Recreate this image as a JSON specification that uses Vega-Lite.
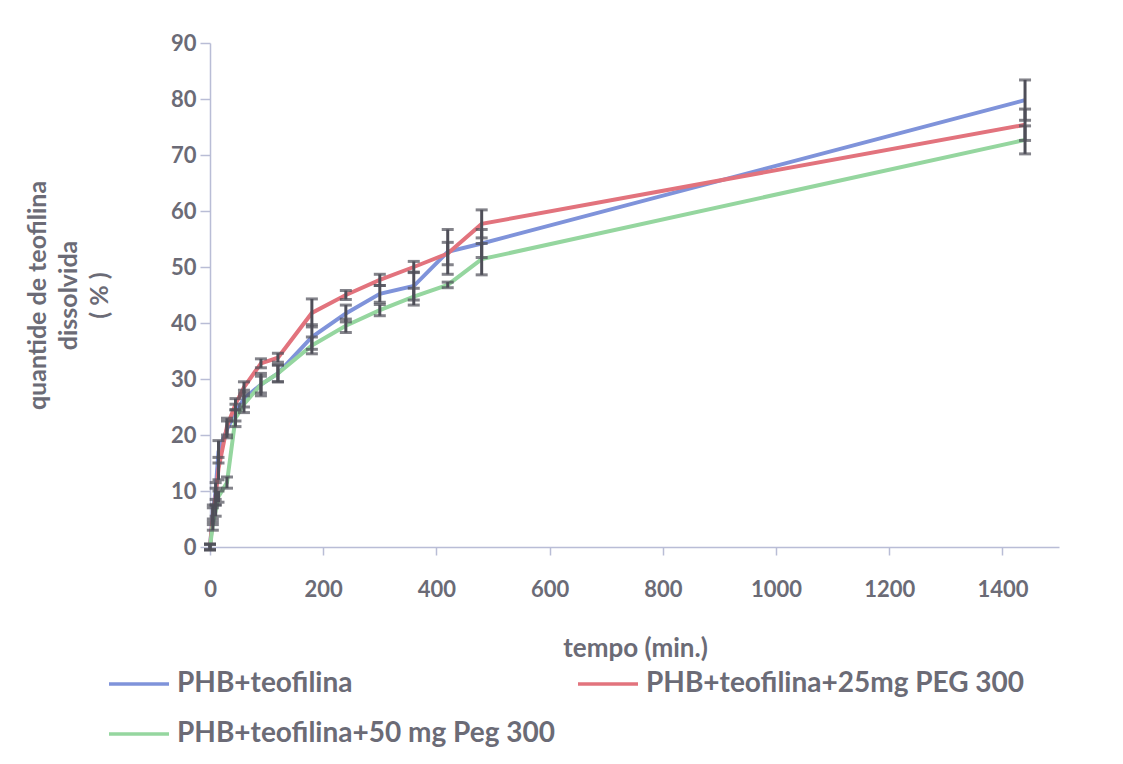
{
  "$schema": "https://vega.github.io/schema/vega-lite/v6.json",
  "autosize": "none",
  "width": 849,
  "height": 504,
  "padding": {"left": 210, "top": 43, "right": 64, "bottom": 217},
  "background": "white",
  "config": {
    "font": "Lato",
    "view": {"stroke": null},
    "axis": {"grid": false}
  },
  "data": {
    "values": [
      {"t": 0, "v": 0, "sd": 0.5, "s": "PHB+teofilina"},
      {"t": 5, "v": 6, "sd": 1.5, "s": "PHB+teofilina"},
      {"t": 10, "v": 10, "sd": 1.5, "s": "PHB+teofilina"},
      {"t": 15, "v": 17, "sd": 2, "s": "PHB+teofilina"},
      {"t": 30, "v": 21, "sd": 1.5, "s": "PHB+teofilina"},
      {"t": 45, "v": 24, "sd": 1.5, "s": "PHB+teofilina"},
      {"t": 60, "v": 26.5, "sd": 1.5, "s": "PHB+teofilina"},
      {"t": 90, "v": 29, "sd": 2, "s": "PHB+teofilina"},
      {"t": 120, "v": 31, "sd": 1.5, "s": "PHB+teofilina"},
      {"t": 180, "v": 37.5, "sd": 2.2, "s": "PHB+teofilina"},
      {"t": 240, "v": 41.7, "sd": 1.5, "s": "PHB+teofilina"},
      {"t": 300, "v": 45.2, "sd": 1.5, "s": "PHB+teofilina"},
      {"t": 360, "v": 46.6, "sd": 2.5, "s": "PHB+teofilina"},
      {"t": 420, "v": 52.7, "sd": 4, "s": "PHB+teofilina"},
      {"t": 480, "v": 54.2, "sd": 2.5, "s": "PHB+teofilina"},
      {"t": 1440, "v": 79.8, "sd": 3.6, "s": "PHB+teofilina"},
      {"t": 0, "v": 0, "sd": 0.5, "s": "PHB+teofilina+25mg PEG 300"},
      {"t": 5, "v": 5.5, "sd": 1.5, "s": "PHB+teofilina+25mg PEG 300"},
      {"t": 10, "v": 9, "sd": 1.5, "s": "PHB+teofilina+25mg PEG 300"},
      {"t": 15, "v": 14, "sd": 2, "s": "PHB+teofilina+25mg PEG 300"},
      {"t": 30, "v": 21.5, "sd": 1.5, "s": "PHB+teofilina+25mg PEG 300"},
      {"t": 45, "v": 25.5, "sd": 1, "s": "PHB+teofilina+25mg PEG 300"},
      {"t": 60, "v": 28.5, "sd": 1, "s": "PHB+teofilina+25mg PEG 300"},
      {"t": 90, "v": 32.8, "sd": 0.8, "s": "PHB+teofilina+25mg PEG 300"},
      {"t": 120, "v": 33.8, "sd": 0.8, "s": "PHB+teofilina+25mg PEG 300"},
      {"t": 180, "v": 41.8, "sd": 2.5, "s": "PHB+teofilina+25mg PEG 300"},
      {"t": 240, "v": 45, "sd": 0.8, "s": "PHB+teofilina+25mg PEG 300"},
      {"t": 300, "v": 47.7, "sd": 1, "s": "PHB+teofilina+25mg PEG 300"},
      {"t": 360, "v": 50, "sd": 1, "s": "PHB+teofilina+25mg PEG 300"},
      {"t": 420, "v": 52.4, "sd": 2, "s": "PHB+teofilina+25mg PEG 300"},
      {"t": 480, "v": 57.7, "sd": 2.5, "s": "PHB+teofilina+25mg PEG 300"},
      {"t": 1440, "v": 75.4, "sd": 2.8, "s": "PHB+teofilina+25mg PEG 300"},
      {"t": 0, "v": 0, "sd": 0.5, "s": "PHB+teofilina+50 mg Peg 300"},
      {"t": 5, "v": 4, "sd": 1, "s": "PHB+teofilina+50 mg Peg 300"},
      {"t": 10, "v": 6.5, "sd": 1, "s": "PHB+teofilina+50 mg Peg 300"},
      {"t": 15, "v": 9, "sd": 1, "s": "PHB+teofilina+50 mg Peg 300"},
      {"t": 30, "v": 11.5, "sd": 1, "s": "PHB+teofilina+50 mg Peg 300"},
      {"t": 45, "v": 23, "sd": 1.5, "s": "PHB+teofilina+50 mg Peg 300"},
      {"t": 60, "v": 25.5, "sd": 1.5, "s": "PHB+teofilina+50 mg Peg 300"},
      {"t": 90, "v": 29, "sd": 1.5, "s": "PHB+teofilina+50 mg Peg 300"},
      {"t": 120, "v": 31, "sd": 1.5, "s": "PHB+teofilina+50 mg Peg 300"},
      {"t": 180, "v": 36, "sd": 1.5, "s": "PHB+teofilina+50 mg Peg 300"},
      {"t": 240, "v": 39.5, "sd": 1.2, "s": "PHB+teofilina+50 mg Peg 300"},
      {"t": 300, "v": 42.3, "sd": 1, "s": "PHB+teofilina+50 mg Peg 300"},
      {"t": 360, "v": 44.7, "sd": 1.5, "s": "PHB+teofilina+50 mg Peg 300"},
      {"t": 420, "v": 46.8, "sd": 0.5, "s": "PHB+teofilina+50 mg Peg 300"},
      {"t": 480, "v": 51.4, "sd": 2.8, "s": "PHB+teofilina+50 mg Peg 300"},
      {"t": 1440, "v": 72.7, "sd": 2.5, "s": "PHB+teofilina+50 mg Peg 300"}
    ]
  },
  "encoding": {
    "x": {
      "field": "t", "type": "quantitative",
      "scale": {"domain": [0, 1500], "nice": false, "zero": false},
      "axis": {
        "values": [0, 200, 400, 600, 800, 1000, 1200, 1400],
        "format": "d",
        "labelFlush": false,
        "title": "tempo  (min.)",
        "titleFont": "Lato", "titleFontSize": 26, "titleFontWeight": "bold", "titleColor": "#6b6b76",
        "titleX": 425, "titleY": 101, "titleBaseline": "middle",
        "labelFont": "Lato", "labelFontSize": 22, "labelFontWeight": "bold", "labelColor": "#6b6b76",
        "labelPadding": 24,
        "domainColor": "#b9bdd6", "domainWidth": 1.5,
        "tickColor": "#b9bdd6", "tickSize": 8, "tickWidth": 1.5
      }
    },
    "y": {
      "field": "v", "type": "quantitative",
      "scale": {"domain": [0, 90], "nice": false},
      "axis": {
        "values": [0, 10, 20, 30, 40, 50, 60, 70, 80, 90],
        "title": ["quantide de teofilina", "dissolvida", "( % )"],
        "titleFont": "Lato", "titleFontSize": 25, "titleFontWeight": "bold", "titleColor": "#6b6b76",
        "titleX": -185, "titleY": 252, "titleAngle": -90, "titleAlign": "center", "titleBaseline": "top",
        "titleLineHeight": 31,
        "labelFont": "Lato", "labelFontSize": 22, "labelFontWeight": "bold", "labelColor": "#6b6b76",
        "labelPadding": 4,
        "domainColor": "#b9bdd6", "domainWidth": 1.5,
        "tickColor": "#b9bdd6", "tickSize": 10, "tickWidth": 1.5
      }
    }
  },
  "layer": [
    {
      "mark": {"type": "line", "strokeWidth": 4},
      "encoding": {
        "color": {
          "field": "s", "type": "nominal",
          "scale": {
            "domain": ["PHB+teofilina", "PHB+teofilina+25mg PEG 300", "PHB+teofilina+50 mg Peg 300"],
            "range": ["#7f93da", "#e2737d", "#95d69f"]
          },
          "legend": {
            "title": null,
            "orient": "none",
            "direction": "horizontal",
            "legendX": -103,
            "legendY": 609,
            "columns": 2,
            "columnPadding": 16,
            "rowPadding": 4,
            "symbolType": "stroke",
            "symbolSize": 3600,
            "symbolStrokeWidth": 3.5,
            "labelFont": "Lato", "labelFontSize": 28, "labelFontWeight": "bold", "labelColor": "#6b6b76",
            "labelLimit": 600, "labelOffset": 6
          }
        }
      }
    },
    {
      "mark": {"type": "errorbar", "ticks": {"size": 12, "color": "#4e4e58", "strokeWidth": 3}, "color": "#4e4e58", "thickness": 3},
      "encoding": {
        "yError": {"field": "sd"},
        "detail": {"field": "s", "type": "nominal"}
      }
    }
  ]
}
